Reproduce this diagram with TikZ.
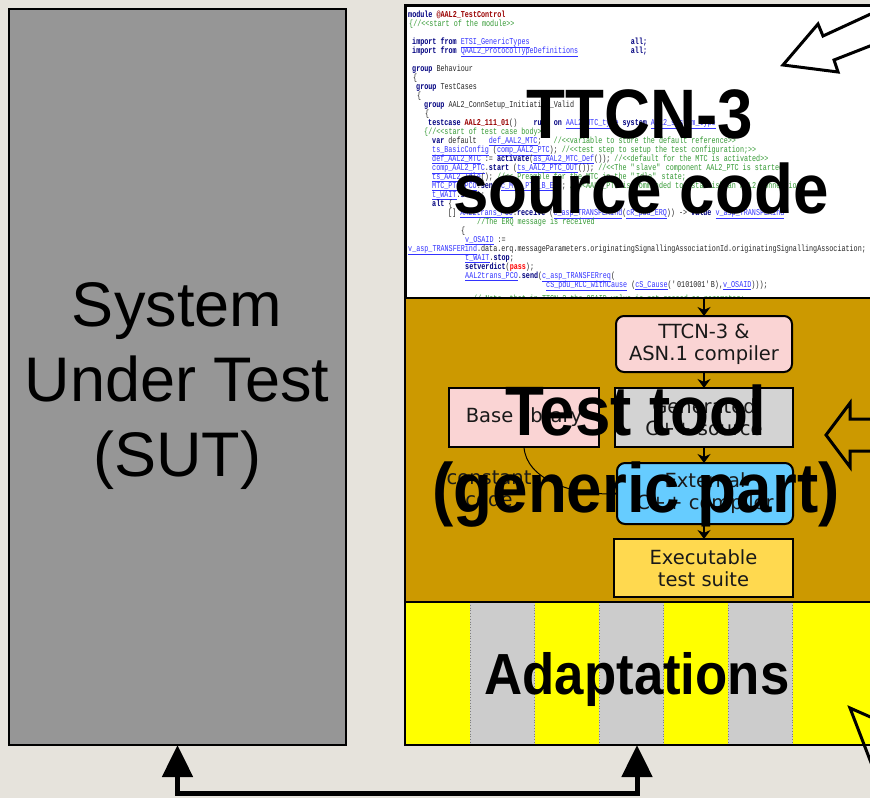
\documentclass[tikz,border=0pt]{standalone}
\usepackage{fontspec}
\usetikzlibrary{arrows.meta}
\setmainfont{Liberation Sans}
\newfontfamily\codefont[FakeStretch=0.75]{Liberation Mono}
\newfontfamily\heavyfont[FakeStretch=0.91]{Liberation Sans}
\newfontfamily\boxfont{DejaVu Sans}

\definecolor{bgcol}{RGB}{230,227,220}
\definecolor{sutgray}{RGB}{150,150,150}
\definecolor{toolgold}{RGB}{204,153,0}
\definecolor{pinkbox}{RGB}{250,212,212}
\definecolor{genbox}{RGB}{211,211,211}
\definecolor{extbox}{RGB}{102,204,255}
\definecolor{exebox}{RGB}{255,217,79}
\definecolor{adyellow}{RGB}{255,255,0}
\definecolor{adgray}{RGB}{204,204,204}
\definecolor{kwcol}{RGB}{0,0,128}
\definecolor{lkcol}{RGB}{51,51,255}
\definecolor{cmcol}{RGB}{51,153,51}
\definecolor{idcol}{RGB}{153,0,0}

% code listing helpers
\newlength\codew
\setlength\codew{4.05pt}
\newcommand\kw[1]{{\bfseries\color{kwcol}#1}}
\newcommand\lk[1]{{\color{lkcol}\underline{#1}}}
\newcommand\cm[1]{{\color{cmcol}#1}}
\newcommand\rd[1]{{\bfseries\color{idcol}#1}}
\newcommand\sk[1]{\hspace*{#1\codew}}
\newcommand\opn{<\kern0pt<}
\newcommand\cls{>\kern0pt>}

\begin{document}
\begin{tikzpicture}[x=1pt,y=-1pt,
  panel/.style={draw, line width=2, anchor=north west, inner sep=0, outer sep=0},
  code/.style={anchor=base west, inner sep=0, font=\codefont\fontsize{9}{9}\selectfont, text=black!85},
  inbox/.style={draw, line width=2, anchor=north west, inner sep=0, outer sep=0, align=center,
    font=\boxfont\fontsize{19.5}{22}\selectfont, text=black!90},
  flow/.style={-{Stealth[length=9pt,width=13pt]}, line width=2},
  thinflow/.style={-{Stealth[length=7pt,width=8pt]}, line width=1},
  big/.style={anchor=base, inner sep=0, font=\heavyfont\bfseries\fontsize{70}{75}\selectfont},
  sutlabel/.style={anchor=base, inner sep=0, font=\fontsize{63}{75}\selectfont},
  openarrow/.style={draw, line width=3, line join=miter},
  conn/.style={line width=5, {Triangle[length=32pt,width=30pt]}-{Triangle[length=32pt,width=30pt]}}]

\useasboundingbox (0,0) rectangle (870,798);
\clip (0,0) rectangle (870,798);
\fill[bgcol] (0,0) rectangle (870,798);

% system under test
\node[panel, fill=sutgray, minimum width=337, minimum height=736] (sut) at (9,9) {};
\node[sutlabel] (sut1) at (177,326) {System};
\node[sutlabel] (sut2) at (177,401) {Under Test};
\node[sutlabel] (sut3) at (177,476) {(SUT)};

% source code panel
\node[panel, line width=3, fill=white, minimum width=470, minimum height=293] (src) at (405,5) {};
\node[code] (c00) at (408,17) {\kw{module} \rd{@AAL2\_TestControl}};
\node[code] (c01) at (409,26) {\cm{\{//\opn start of the module\cls}};
\node[code] (c03) at (412,44) {\kw{import from} \lk{ETSI\_GenericTypes}\sk{25}\kw{all;}};
\node[code] (c04) at (412,53) {\kw{import from} \lk{QAAL2\_ProtocolTypeDefinitions}\sk{13}\kw{all;}};
\node[code] (c06) at (412,71) {\kw{group} Behaviour};
\node[code] (c07) at (413,80) {\{};
\node[code] (c08) at (416,89) {\kw{group} TestCases};
\node[code] (c09) at (417,98) {\{};
\node[code] (c10) at (424,107) {\kw{group} AAL2\_ConnSetup\_Initiation\_Valid};
\node[code] (c11) at (425,116) {\{};
\node[code] (c12) at (428,125) {\kw{testcase} \rd{AAL2\_111\_01}()\sk{4}\kw{runs on} \lk{AAL2\_MTC\_type} \kw{system} \lk{AAL2\_system\_type}};
\node[code] (c13) at (424,134) {\cm{\{//\opn start of test case body\cls}};
\node[code] (c14) at (432,143) {\kw{var} default\sk{3}\lk{def\_AAL2\_MTC};\sk{3}\cm{//\opn variable to store the default reference\cls}};
\node[code] (c15) at (432,152) {\lk{ts\_BasicConfig} (\lk{comp\_AAL2\_PTC}); \cm{//\opn test step to setup the test configuration;\cls}};
\node[code] (c16) at (432,161) {\lk{def\_AAL2\_MTC} := \kw{activate}(\lk{as\_AAL2\_MTC\_Def}()); \cm{//\opn default for the MTC is activated\cls}};
\node[code] (c17) at (432,170) {\lk{comp\_AAL2\_PTC}.\kw{start} (\lk{ts\_AAL2\_PTC\_OUT}()); \cm{//\opn The \textquotedbl slave\textquotedbl{} component AAL2\_PTC is started}};
\node[code] (c18) at (432,179) {\lk{ts\_AAL2\_Idle}(); \cm{//\opn{} Preamble for the MTC in the \textquotedbl Idle\textquotedbl{} state;}};
\node[code] (c19) at (432,188) {\lk{MTC\_PTC\_PCO}.\kw{send}(\lk{c\_MTC\_PTC\_B\_EP}); \cm{//\opn AAL2\_PTC is commanded to establish an AAL2 connection}};
\node[code] (c20) at (432,197) {\lk{t\_WAIT}.\kw{start};};
\node[code] (c21) at (432,206) {\kw{alt} \{};
\node[code] (c22) at (448,215) {[] \lk{AAL2trans\_PCO}.\kw{receive} (\lk{c\_asp\_TRANSFERind}(\lk{cR\_pdu\_ERQ})) -> \kw{value} \lk{v\_asp\_TRANSFERind}};
\node[code] (c23) at (477,224) {\cm{//The ERQ message is received}};
\node[code] (c24) at (461,233) {\{};
\node[code] (c25) at (465,242) {\lk{v\_OSAID} :=};
\node[code] (c26) at (408,251) {\lk{v\_asp\_TRANSFERind}.data.erq.messageParameters.originatingSignallingAssociationId.originatingSignallingAssociation;};
\node[code] (c27) at (465,260) {\lk{t\_WAIT}.\kw{stop};};
\node[code] (c28) at (465,269) {\kw{setverdict}({\bfseries\color{red}pass});};
\node[code] (c29) at (465,278) {\lk{AAL2trans\_PCO}.\kw{send}(\lk{c\_asp\_TRANSFERreq}(};
\node[code] (c30) at (546,287) {\lk{cS\_pdu\_RLC\_withCause} (\lk{cS\_Cause}(\textquotesingle 0101001\textquotesingle B),\lk{v\_OSAID})));};
\node[code] (c31) at (473,301) {\cm{// Note, that in TTCN-3 the OSAID value is not passed as parameter;}};

\node[big] (src1) at (640,138) {TTCN-3};
\node[big] (src2) at (641,213) {source code};
\draw[openarrow] (875,12) -- (823,36) -- (818,24) -- (783,65) -- (838,72) -- (834,60) -- (875,44);

% generic test tool
\node[panel, fill=toolgold, minimum width=470, minimum height=304] (tool) at (405,298) {};
\node[inbox, fill=pinkbox, rounded corners=8, minimum width=176, minimum height=56] (comp) at (616,316) {TTCN-3 \&\\ASN.1 compiler};
\node[inbox, fill=pinkbox, minimum width=150, minimum height=59] (base) at (449,388) {Base library};
\node[inbox, fill=genbox, minimum width=178, minimum height=59] (gen) at (615,388) {Generated\\C++ source};
\node[inbox, fill=extbox, rounded corners=8, minimum width=176, minimum height=61] (ext) at (617,463) {External\\C++ compiler};
\node[inbox, fill=exebox, minimum width=179, minimum height=58] (exe) at (614,539) {Executable\\test suite};
\node[inner sep=0, align=center, font=\boxfont\fontsize{19.5}{22}\selectfont, text=black!90] (const) at (489,489) {constant\\code};

\draw[flow] (src.south -| comp.north) -- (comp.north);
\draw[flow] (comp.south) -- (comp.south |- gen.north);
\draw[flow] (comp.south |- gen.south) -- (comp.south |- ext.north);
\draw[flow] (comp.south |- ext.south) -- (comp.south |- exe.north);
\draw[thinflow] (base.south) .. controls +(2,32) and +(-45,2) .. (ext.west);

\node[big] (tool1) at (636,435) {Test tool};
\node[big] (tool2) at (636,512) {(generic part)};
\draw[openarrow] (875,419) -- (850,419) -- (850,403) -- (826,435) -- (850,467) -- (850,451) -- (875,451);

% adaptation layer
\fill[adyellow] (405,602) rectangle (875,745);
\foreach \xa in {470,599,728} {
  \fill[adgray] (\xa,602) rectangle ++(64.5,143);
}
\foreach \xb in {470,534.5,599,663.5,728,792.5} {
  \draw[gray, dotted, line width=0.8] (\xb,602) -- (\xb,745);
}
\node[panel, minimum width=470, minimum height=143] (adapt) at (405,602) {};
\node[anchor=base, inner sep=0, font=\heavyfont\bfseries\fontsize{58}{60}\selectfont] (adtext) at (637,694) {Adaptations};
\draw[line width=3, line join=miter] (875,719) -- (850,708) -- (875,773);

% link between the tester and the SUT
\coordinate (rail) at (0,793);
\draw[conn] (sut.south) -- (sut.south |- rail) -| ([xshift=-3pt]adapt.south);
\end{tikzpicture}
\end{document}
